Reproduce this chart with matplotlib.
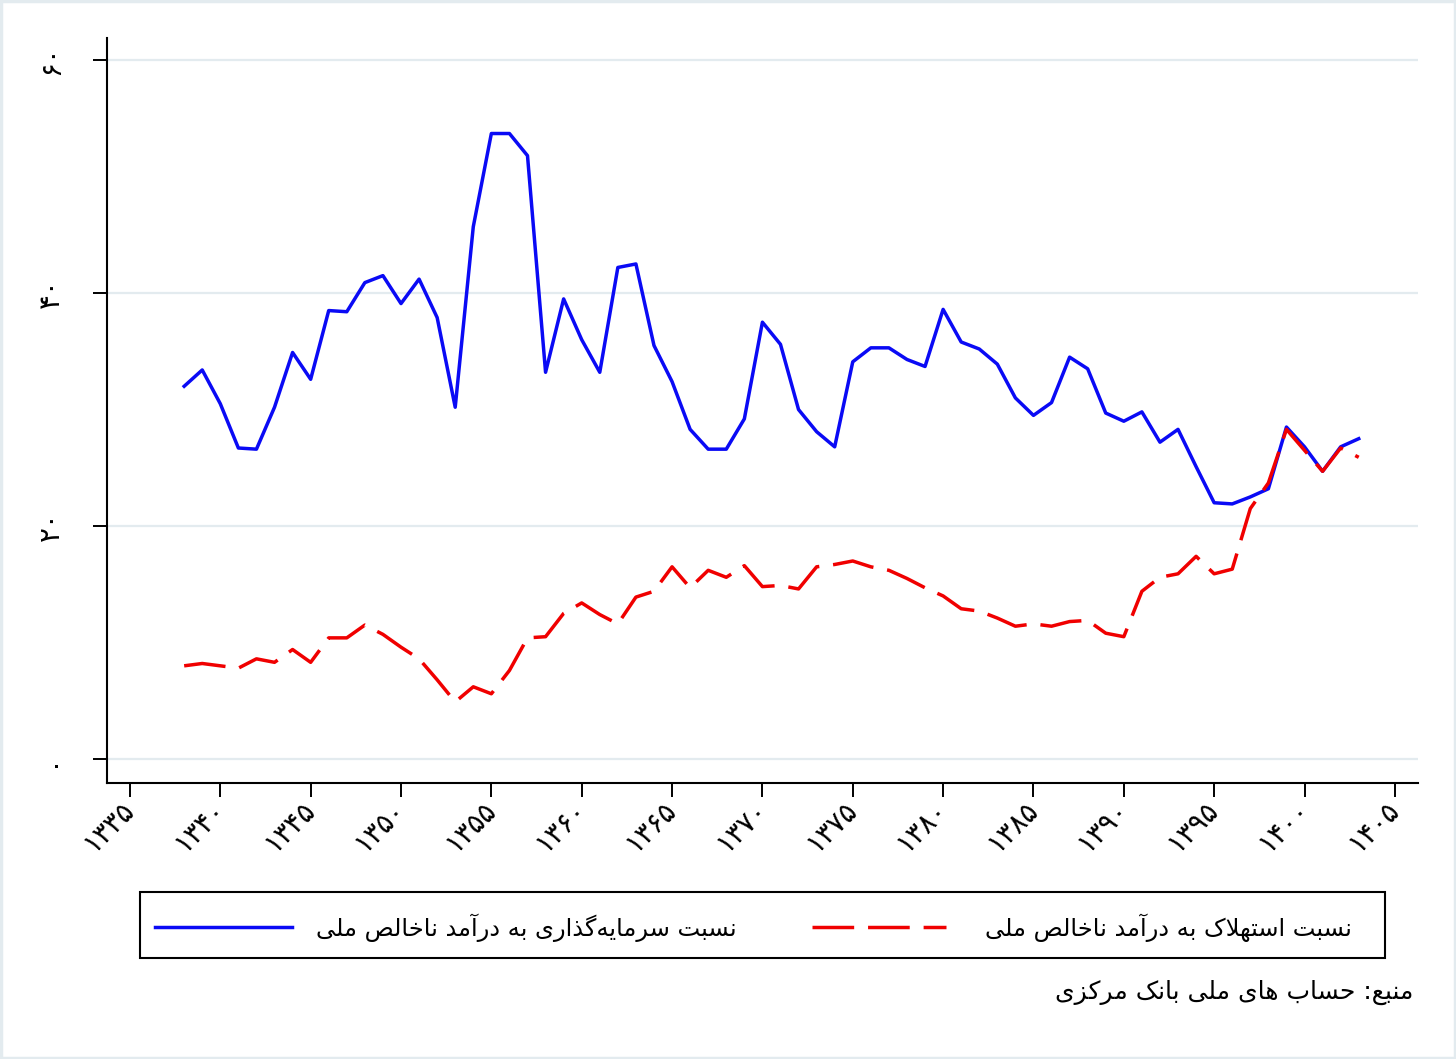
import matplotlib
matplotlib.use('Agg')
import matplotlib.pyplot as plt
from matplotlib.lines import Line2D
from matplotlib.patches import Rectangle

# data (percent of GNI)
years = list(range(1338, 1404))
investment = [32.0, 33.4, 30.5, 26.7, 26.6, 30.2, 34.9, 32.6, 38.5, 38.4,
              40.9, 41.5, 39.1, 41.2, 37.9, 30.2, 45.7, 53.7, 53.7, 51.8,
              33.2, 39.5, 36.0, 33.2, 42.2, 42.5, 35.5, 32.4, 28.3, 26.6,
              26.6, 29.2, 37.5, 35.6, 30.0, 28.1, 26.8, 34.1, 35.3, 35.3,
              34.3, 33.7, 38.6, 35.8, 35.2, 33.9, 31.0, 29.5, 30.6, 34.5,
              33.5, 29.7, 29.0, 29.8, 27.2, 28.3, 25.1, 22.0, 21.9, 22.5,
              23.2, 28.5, 26.8, 24.7, 26.8, 27.5]
depreciation = [8.0, 8.2, 8.0, 7.8, 8.6, 8.3, 9.4, 8.3, 10.4, 10.4,
                11.5, 10.7, 9.6, 8.6, 6.8, 4.9, 6.2, 5.6, 7.6, 10.4,
                10.5, 12.5, 13.4, 12.4, 11.6, 13.9, 14.4, 16.5, 14.7, 16.2,
                15.6, 16.6, 14.8, 14.9, 14.6, 16.5, 16.7, 17.0, 16.5, 16.2,
                15.5, 14.7, 14.0, 12.9, 12.7, 12.1, 11.4, 11.6, 11.4, 11.8,
                11.9, 10.8, 10.5, 14.4, 15.6, 15.9, 17.4, 15.9, 16.3, 21.5,
                23.7, 28.3, 26.5, 24.7, 26.7, 25.9]
xticks = list(range(1335, 1406, 5))
yticks = [0, 20, 40, 60]

label_inv = 'نسبت سرمایه\u200cگذاری به درآمد ناخالص ملی'
label_dep = 'نسبت استهلاک به درآمد ناخالص ملی'
source = 'منبع: حساب های ملی بانک مرکزی'

# --- tiny Persian shaper (matplotlib has no bidi/shaping) ---
FORMS = {  # isolated, final, initial, medial
    'ا': (0xFE8D, 0xFE8E), 'آ': (0xFE81, 0xFE82),
    'د': (0xFEA9, 0xFEAA), 'ذ': (0xFEAB, 0xFEAC),
    'ر': (0xFEAD, 0xFEAE), 'ز': (0xFEAF, 0xFEB0),
    'ب': (0xFE8F, 0xFE90, 0xFE91, 0xFE92), 'ت': (0xFE95, 0xFE96, 0xFE97, 0xFE98),
    'ح': (0xFEA1, 0xFEA2, 0xFEA3, 0xFEA4), 'خ': (0xFEA5, 0xFEA6, 0xFEA7, 0xFEA8),
    'س': (0xFEB1, 0xFEB2, 0xFEB3, 0xFEB4), 'ص': (0xFEB9, 0xFEBA, 0xFEBB, 0xFEBC),
    'ع': (0xFEC9, 0xFECA, 0xFECB, 0xFECC), 'ل': (0xFEDD, 0xFEDE, 0xFEDF, 0xFEE0),
    'م': (0xFEE1, 0xFEE2, 0xFEE3, 0xFEE4), 'ن': (0xFEE5, 0xFEE6, 0xFEE7, 0xFEE8),
    'ه': (0xFEE9, 0xFEEA, 0xFEEB, 0xFEEC), 'ک': (0xFB8E, 0xFB8F, 0xFB90, 0xFB91),
    'گ': (0xFB92, 0xFB93, 0xFB94, 0xFB95), 'ی': (0xFBFC, 0xFBFD, 0xFBFE, 0xFBFF),
}
LAMALEF = {'ا': (0xFEFB, 0xFEFC), 'آ': (0xFEF5, 0xFEF6)}


def dual(c):
    return c in FORMS and len(FORMS[c]) == 4


def shape(text):
    out = []
    i = 0
    n = len(text)
    while i < n:
        c = text[i]
        if c not in FORMS:
            if c != '\u200c':
                out.append(c)
            i += 1
            continue
        prev = text[i - 1] if i > 0 else ''
        jp = dual(prev)
        if c == 'ل' and i + 1 < n and text[i + 1] in LAMALEF:
            out.append(chr(LAMALEF[text[i + 1]][1 if jp else 0]))
            i += 2
            continue
        nxt = text[i + 1] if i + 1 < n else ''
        jn = dual(c) and nxt in FORMS
        f = FORMS[c]
        if jp and jn:
            out.append(chr(f[3]))
        elif jp:
            out.append(chr(f[1]))
        elif jn:
            out.append(chr(f[2]))
        else:
            out.append(chr(f[0]))
        i += 1
    return ''.join(out)[::-1]


fa_digits = str.maketrans('0123456789', '۰۱۲۳۴۵۶۷۸۹')

plt.rcParams['font.family'] = ['DejaVu Sans']

W, H = 1456, 1059
blue = '#0a0af5'
red = '#f00000'
dash = (0, (12, 4))
lw = 2.5

fig = plt.figure(figsize=(W / 100, H / 100), dpi=100)
ax = fig.add_axes([107 / W, 1 - 783 / H, (1418 - 107) / W, (783 - 38) / H])

ax.plot(years, investment, color=blue, lw=lw)
ax.plot(years, depreciation, color=red, lw=lw, linestyle=dash)

ax.set_xlim(1333.73, 1406.28)
ax.set_ylim(-2.06, 61.9)
ax.set_yticks(yticks)
ax.set_yticklabels([str(v).translate(fa_digits) for v in yticks],
                   rotation=90, va='center', fontsize=20)
ax.set_xticks(xticks)
ax.set_xticklabels([str(v).translate(fa_digits) for v in xticks],
                   rotation=45, ha='right', va='center',
                   rotation_mode='anchor', fontsize=20)
ax.tick_params(axis='both', length=10, width=1.4, color='black')
ax.tick_params(axis='y', pad=20)
ax.tick_params(axis='x', pad=6)
ax.grid(axis='y', color='#e3ebef', lw=1.6)
ax.set_axisbelow(True)
for s in ['top', 'right']:
    ax.spines[s].set_visible(False)
for s in ['left', 'bottom']:
    ax.spines[s].set_linewidth(1.5)

# legend box drawn in pixel coordinates of the figure
def fx(px):
    return px / W


def fy(py):
    return 1 - py / H


fig.patches.append(Rectangle((fx(140), fy(958)), fx(1385) - fx(140), fy(892) - fy(958),
                             transform=fig.transFigure, fill=False,
                             edgecolor='black', lw=1.5))
fig.lines.append(Line2D([fx(155), fx(292)], [fy(927), fy(927)], transform=fig.transFigure,
                        color=blue, lw=lw))
fig.lines.append(Line2D([fx(812), fx(946)], [fy(927), fy(927)], transform=fig.transFigure,
                        color=red, lw=lw, linestyle=dash))
fig.text(fx(737), fy(928), shape(label_inv), ha='right', va='center', fontsize=17.4)
fig.text(fx(1352), fy(928), shape(label_dep), ha='right', va='center', fontsize=17.4)

fig.text(fx(1413), fy(992), shape(source), ha='right', va='center', fontsize=18)

fig.patches.append(Rectangle((0.001, 0.001), 0.998, 0.998, transform=fig.transFigure,
                             fill=False, edgecolor='#e3ebef', lw=2.5))

fig.savefig('out.png', dpi=100)
